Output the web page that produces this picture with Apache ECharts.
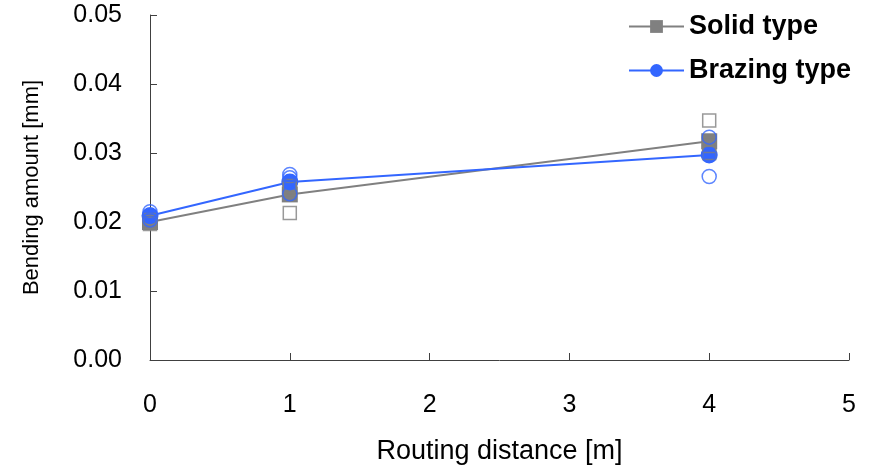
<!DOCTYPE html>
<html><head><meta charset="utf-8">
<script src="https://cdn.jsdelivr.net/npm/echarts@6/dist/echarts.min.js"></script>
<style>html,body{margin:0;padding:0;background:#fff}#c{width:870px;height:470px}</style>
</head><body><div id="c"></div>
<script>
var distances = [0, 1, 4];
var solidMean = [0.0200, 0.0240, 0.0317];
var brazingMean = [0.0209, 0.0258, 0.0297];
var solidSamples = [[0.0197, 0.0200, 0.0203], [0.0213, 0.0248, 0.0252], [0.0347, 0.0300, 0.0310]];
var brazingSamples = [[0.0203, 0.0210, 0.0215], [0.0241, 0.0264, 0.0269], [0.0323, 0.0266, 0.0297]];
var xTicks = [0, 1, 2, 3, 4, 5];
var yTicks = [0.00, 0.01, 0.02, 0.03, 0.04, 0.05];

function pairs(xs, ys) { return xs.map(function (x, i) { return [x, ys[i]]; }); }
function samplePairs(xs, s) {
  var out = [];
  xs.forEach(function (x, i) { s[i].forEach(function (v) { out.push([x, v]); }); });
  return out;
}
var gray = '#808080', blue = '#3366ff', axisColor = '#404040';
var font = 'Liberation Sans, Arial, sans-serif';
var chart = echarts.init(document.getElementById('c'));
chart.setOption({
  animation: false,
  textStyle: { fontFamily: font },
  grid: { left: 150, right: 21, top: 15, bottom: 107 },
  legend: {
    data: ['Solid type', 'Brazing type'],
    orient: 'vertical', left: 623, top: 8,
    itemWidth: 55, itemHeight: 16, itemGap: 17,
    textStyle: { fontSize: 27, fontWeight: 'bold', color: '#000', fontFamily: font }
  },
  xAxis: {
    type: 'value', min: xTicks[0], max: xTicks[xTicks.length - 1], interval: 1,
    name: 'Routing distance [m]', nameLocation: 'middle', nameGap: 78,
    nameTextStyle: { fontSize: 27, color: '#000' },
    axisLine: { lineStyle: { color: axisColor, width: 1 } },
    axisTick: { show: true, inside: true, length: 7, lineStyle: { color: axisColor } },
    axisLabel: { fontSize: 25, color: '#000', margin: 33 },
    splitLine: { show: false }
  },
  yAxis: {
    type: 'value', min: yTicks[0], max: yTicks[yTicks.length - 1], interval: 0.01,
    name: 'Bending amount [mm]', nameLocation: 'middle', nameGap: 107,
    nameTextStyle: { fontSize: 22, color: '#000' },
    axisLine: { show: true, lineStyle: { color: axisColor, width: 1 } },
    axisTick: { show: true, inside: true, length: 7, lineStyle: { color: axisColor } },
    axisLabel: { fontSize: 25, color: '#000', margin: 28, formatter: function (v) { return v.toFixed(2); } },
    splitLine: { show: false }
  },
  series: [
    { name: 'Solid type', type: 'line', data: pairs(distances, solidMean), symbol: 'rect', symbolSize: 16,
      itemStyle: { color: gray }, lineStyle: { color: gray, width: 2 }, z: 3 },
    { name: 'Brazing type', type: 'line', data: pairs(distances, brazingMean), symbol: 'circle', symbolSize: 17,
      itemStyle: { color: blue }, lineStyle: { color: blue, width: 2 }, z: 4 },
    { name: 'Solid samples', type: 'scatter', data: samplePairs(distances, solidSamples), symbol: 'rect', symbolSize: 13,
      itemStyle: { color: 'rgba(0,0,0,0)', borderColor: gray, borderWidth: 1.5 }, z: 5 },
    { name: 'Brazing samples', type: 'scatter', data: samplePairs(distances, brazingSamples), symbol: 'circle', symbolSize: 14,
      itemStyle: { color: 'rgba(0,0,0,0)', borderColor: blue, borderWidth: 1.5 }, z: 6 }
  ]
});
</script></body></html>
